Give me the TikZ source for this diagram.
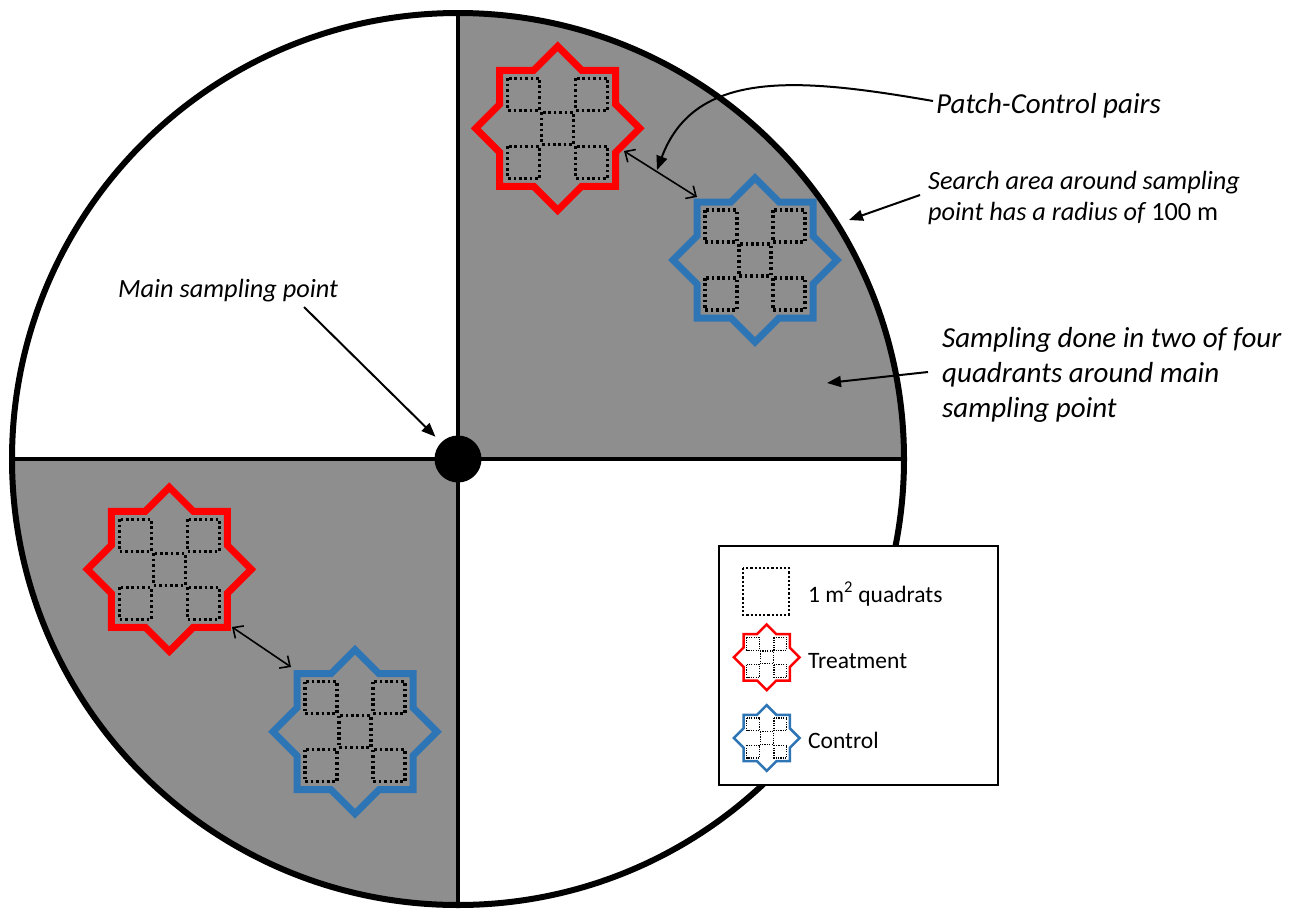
\documentclass[tikz,border=0pt]{standalone}
\usepackage{fontspec}
\setmainfont{Carlito}
\usetikzlibrary{arrows.meta,calc}

\definecolor{quadgray}{RGB}{142,142,142}
\definecolor{treatred}{RGB}{255,0,0}
\definecolor{ctrlblue}{RGB}{46,117,182}

\tikzset{
  % eight-pointed patch outline with its five dotted quadrats
  pics/patch/.style n args={5}{code={
    \draw[draw=#1, line width=#2, line join=miter]
      (0,-82) -- (24,-58) -- (58,-58) -- (58,-24) -- (82,0) -- (58,24) -- (58,58)
      -- (24,58) -- (0,82) -- (-24,58) -- (-58,58) -- (-58,24) -- (-82,0)
      -- (-58,-24) -- (-58,-58) -- (-24,-58) -- cycle;
    \foreach \qx/\qy in {-34/-34, 34/-34, 0/0, -34/34, 34/34}
      \draw[line width=#3, dash pattern=on #4 off #5]
        (\qx-16,\qy-16) rectangle (\qx+16,\qy+16);
  }},
  pointer/.style={line width=2pt, -{Triangle[length=14pt,width=11pt]}},
  pairlink/.style={line width=1.6pt, {Straight Barb[length=8pt,width=15pt]}-{Straight Barb[length=8pt,width=15pt]}},
  calloutit/.style={inner sep=0pt, anchor=base west, font=\fontsize{29}{35}\selectfont\itshape},
  searchit/.style={inner sep=0pt, anchor=base west, font=\fontsize{26.3}{31}\selectfont\itshape},
  keytext/.style={inner sep=0pt, anchor=base west, font=\fontsize{23.5}{28}\selectfont},
}

\begin{document}
\begin{tikzpicture}[x=1pt, y=-1pt]
\useasboundingbox (0,0) rectangle (1300,910);
\fill[white] (0,0) rectangle (1300,910);

% shaded quadrants of the search circle
\begin{scope}
  \clip (458,459) circle[radius=446];
  \fill[quadgray] (458,459) rectangle (960,-50);
  \fill[quadgray] (458,459) rectangle (-50,960);
\end{scope}
\draw[line width=4.5pt] (458,12) -- (458,906);
\draw[line width=4.5pt] (12,459) -- (904,459);
\draw[line width=6pt] (458,459) circle[radius=446];
\node[circle, fill=black, minimum size=47pt, inner sep=0pt] (dot) at (458,459) {};

% patch / control pairs
\pic (trA) at (557.7,128.3) {patch={treatred}{7pt}{3.4pt}{2.6pt}{2.8pt}};
\pic (ctA) at (755,260) {patch={ctrlblue}{7pt}{3.4pt}{2.6pt}{2.8pt}};
\pic (trB) at (169.3,569.3) {patch={treatred}{7pt}{3.4pt}{2.6pt}{2.8pt}};
\pic (ctB) at (355,731.7) {patch={ctrlblue}{7pt}{3.4pt}{2.6pt}{2.8pt}};

\coordinate (pairAa) at (624,151);
\coordinate (pairAb) at (697,197);
\coordinate (pairBa) at (232,627);
\coordinate (pairBb) at (291,667);
\draw[pairlink] (pairAa) -- (pairAb);
\draw[pairlink] (pairBa) -- (pairBb);

% labels
\node[searchit] (mainlbl) at (118,297) {Main sampling point};
\coordinate (mainfrom) at (304,307);
\draw[pointer, shorten >=8pt] (mainfrom) -- (dot);

\node[calloutit] (pclbl) at (936,113) {Patch-Control pairs};
\coordinate (pcfrom) at (933,101);
\coordinate (pcto) at (657,170);
\draw[pointer] (pcfrom) .. controls (800,78) and (695,68) .. (pcto);

\node[searchit] (srch1) at (928,189) {Search area around sampling};
\node[searchit] (srch2) at (928,220) {point has a radius of \upshape 100 m};
\coordinate (srchfrom) at (920,195);
\coordinate (srchto) at (849,220);
\draw[pointer] (srchfrom) -- (srchto);

\node[calloutit] (samp1) at (942,347) {Sampling done in two of four};
\node[calloutit] (samp2) at (942,382) {quadrants around main};
\node[calloutit] (samp3) at (942,417) {sampling point};
\coordinate (sampfrom) at (928,372);
\coordinate (sampto) at (827,383);
\draw[pointer] (sampfrom) -- (sampto);

% legend
\draw[line width=2.5pt, fill=white] (719,546) rectangle (998,785);
\draw[line width=2.2pt, dash pattern=on 2.2pt off 2pt] (743,568) rectangle (789,615);
\node[keytext] (keyq) at (808,602) {1 m\textsuperscript{2} quadrats};
\pic[scale=0.4] (keytr) at (766.7,657.3) {patch={treatred}{2.5pt}{1.2pt}{1.2pt}{1.2pt}};
\node[keytext] (keyt) at (808,668) {Treatment};
\pic[scale=0.4] (keyct) at (766.7,738) {patch={ctrlblue}{2.5pt}{1.2pt}{1.2pt}{1.2pt}};
\node[keytext] (keyc) at (808,748) {Control};
\end{tikzpicture}
\end{document}
